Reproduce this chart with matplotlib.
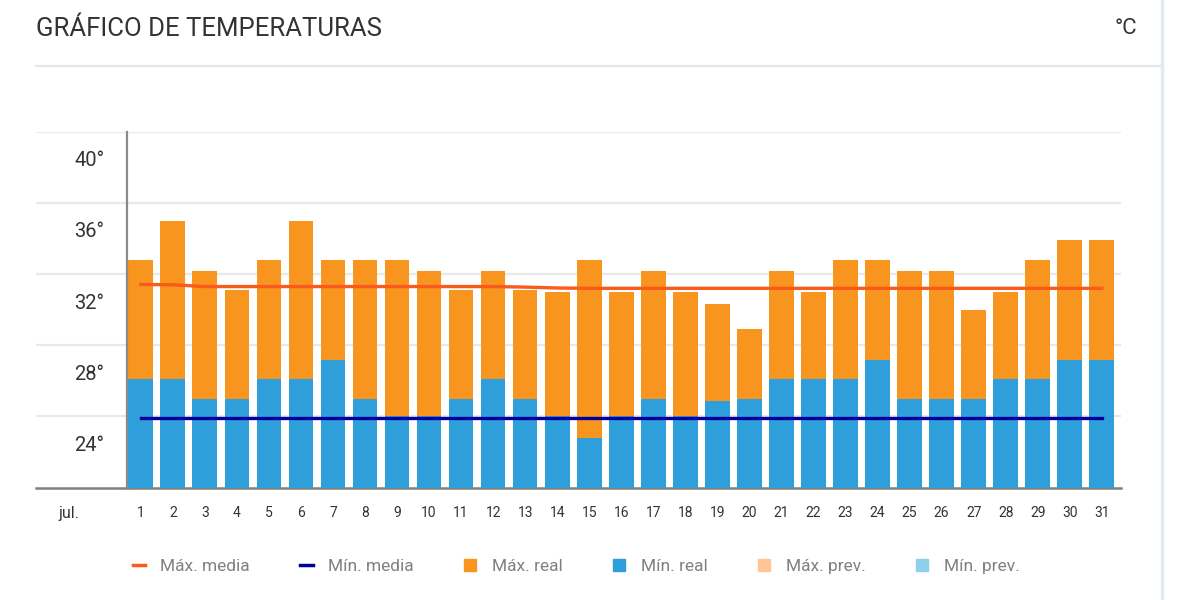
import numpy as np
import matplotlib
matplotlib.use('Agg')
import matplotlib.pyplot as plt
from matplotlib.lines import Line2D
from matplotlib.transforms import ScaledTranslation

plt.rcParams['font.family'] = ['Roboto', 'DejaVu Sans']

# datos de julio (°C)
dias = np.arange(1, 32)
max_real = [32.8, 35.0, 32.2, 31.1, 32.8, 35.0, 32.8, 32.8, 32.8, 32.2,
            31.1, 32.2, 31.1, 31.0, 32.8, 31.0, 32.2, 31.0, 30.3, 28.9,
            32.2, 31.0, 32.8, 32.8, 32.2, 32.2, 30.0, 31.0, 32.8, 33.9, 33.9]
min_real = [26.1, 26.1, 25.0, 25.0, 26.1, 26.1, 27.2, 25.0, 24.05, 24.05,
            25.0, 26.1, 25.0, 24.05, 22.8, 24.05, 25.0, 24.05, 24.85, 25.0,
            26.1, 26.1, 26.1, 27.2, 25.0, 25.0, 25.0, 26.1, 26.1, 27.2, 27.2]
max_media = [31.42, 31.4, 31.3, 31.3, 31.3, 31.3, 31.3, 31.3, 31.3, 31.3,
             31.3, 31.3, 31.27, 31.22, 31.2, 31.2, 31.2, 31.2, 31.2, 31.2,
             31.2, 31.2, 31.2, 31.2, 31.2, 31.2, 31.2, 31.2, 31.2, 31.2, 31.2]
min_media = [23.9] * 31
y_ticks = [24, 28, 32, 36, 40]

c_max = '#F7951F'
c_min = '#2E9FDA'
c_maxmed = '#FA5A1A'
c_minmed = '#00009E'
c_maxprev = '#FFC594'
c_minprev = '#8FCFEE'

fig = plt.figure(figsize=(12, 6), dpi=100)
ax = fig.add_axes([36 / 1200, 1 - 487.7 / 600, (1121 - 36) / 1200, 356 / 600])

ax.bar(dias, max_real, width=0.77, bottom=0, color=c_max, zorder=2)
ax.bar(dias, min_real, width=0.77, bottom=0, color=c_min, zorder=3)
ax.plot(dias, max_media, color=c_maxmed, lw=2.4, zorder=4)
ax.plot(dias, min_media, color=c_minmed, lw=2.4, zorder=4)

ax.set_ylim(20, 40)
ax.set_xlim(-2.27, 31.6)

# eje y en el borde izquierdo de las barras
for s in ['top', 'right']:
    ax.spines[s].set_visible(False)
ax.spines['left'].set_position(('data', 0.56))
ax.spines['left'].set_color('#8a8a8a')
ax.spines['left'].set_linewidth(1.6)
ax.spines['bottom'].set_color('#808080')
ax.spines['bottom'].set_linewidth(1.8)
ax.spines['left'].set_zorder(5)

ax.set_yticks(y_ticks)
ax.set_yticklabels([f'{t}°' for t in y_ticks])
ax.yaxis.grid(True, color='#e9e9e9', lw=1.6, zorder=0)
ax.set_axisbelow(True)
ax.tick_params(axis='y', length=0, pad=16, labelsize=14.5, labelcolor='#333333')
off = ScaledTranslation(0, -0.27, fig.dpi_scale_trans)
for lab in ax.get_yticklabels():
    lab.set_transform(lab.get_transform() + off)

ax.set_xticks([-1.24] + list(dias))
ax.set_xticklabels(['jul.'] + [str(d) for d in dias])
ax.tick_params(axis='x', length=0, pad=13, labelsize=10, labelcolor='#333333')
ax.get_xticklabels()[0].set_fontsize(11.5)

# cabecera
fig.text(36 / 1200, 1 - 29 / 600, 'GRÁFICO DE TEMPERATURAS', fontsize=18.5,
         color='#333333', va='center', ha='left')
fig.text(1137 / 1200, 1 - 29 / 600, '°C', fontsize=16, color='#333333',
         va='center', ha='right')
fig.add_artist(Line2D([36 / 1200, 1160 / 1200], [1 - 66 / 600, 1 - 66 / 600],
                      color='#e6e6e6', lw=1.6))
fig.add_artist(Line2D([1162 / 1200, 1162 / 1200], [0, 1], color='#e3e9f2', lw=2.5))

handles = [
    Line2D([], [], color=c_maxmed, lw=2.5),
    Line2D([], [], color=c_minmed, lw=2.5),
    Line2D([], [], color=c_max, marker='s', ms=8, ls='none'),
    Line2D([], [], color=c_min, marker='s', ms=8, ls='none'),
    Line2D([], [], color=c_maxprev, marker='s', ms=8, ls='none'),
    Line2D([], [], color=c_minprev, marker='s', ms=8, ls='none'),
]
labels = ['Máx. media', 'Mín. media', 'Máx. real', 'Mín. real', 'Máx. prev.', 'Mín. prev.']
leg = fig.legend(handles, labels, loc='center', bbox_to_anchor=(576 / 1200, 1 - 566 / 600),
                 ncol=6, frameon=False, fontsize=12.5, handlelength=0.7,
                 handletextpad=0.9, columnspacing=2.9, labelcolor='#808080')

fig.savefig('out.png', dpi=100)
